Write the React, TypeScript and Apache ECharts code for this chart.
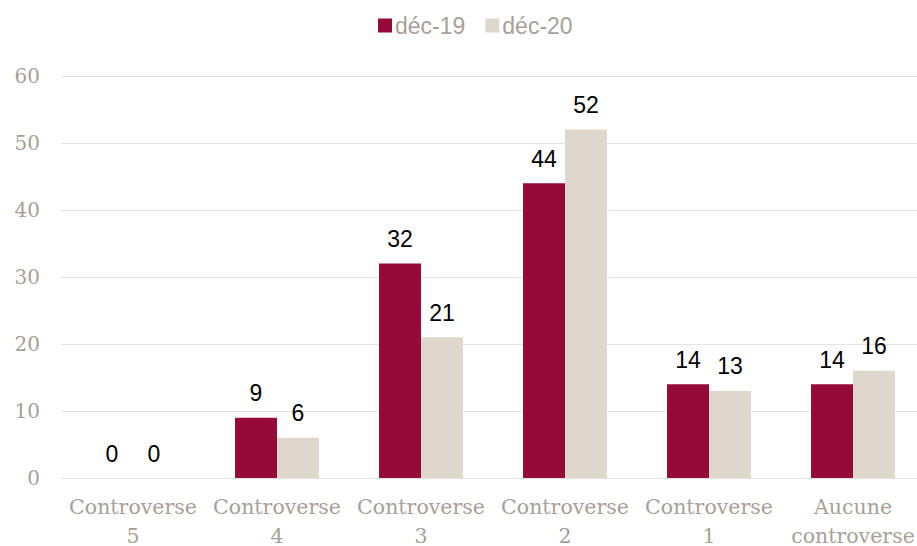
import React, { useEffect, useRef } from "react";
import * as echarts from "echarts";

const categories = ["Controverse\n5", "Controverse\n4", "Controverse\n3", "Controverse\n2", "Controverse\n1", "Aucune\ncontroverse"];
const dec19 = [0, 9, 32, 44, 14, 14];
const dec20 = [0, 6, 21, 52, 13, 16];
const seriesNames = ["déc-19", "déc-20"];

export default function App() {
  const ref = useRef<HTMLDivElement>(null);
  useEffect(() => {
    if (!ref.current) return;
    const chart = echarts.init(ref.current, null, { renderer: "svg" });
    const gray = "#A79F98";
    const labelStyle = {
      show: true,
      position: "top" as const,
      distance: 13,
      color: "#000",
      fontFamily: "Liberation Sans, Arial, sans-serif",
      fontSize: 23,
    };
    chart.setOption({
      animation: false,
      backgroundColor: "#fff",
      legend: {
        top: 9,
        left: 373,
        itemWidth: 14,
        itemHeight: 14,
        itemGap: 20,
        icon: "rect",
        textStyle: { color: gray, fontSize: 23, fontFamily: "Liberation Sans, Arial, sans-serif", padding: [0, 0, 0, -2] },
        data: seriesNames,
      },
      grid: { left: 61, top: 76, width: 864, height: 402, containLabel: false, outerBoundsMode: "none" },
      xAxis: {
        type: "category",
        data: categories,
        axisLine: { show: true, lineStyle: { color: "#E3E3E3", width: 1 } },
        axisTick: { show: false },
        axisLabel: {
          color: gray,
          fontSize: 20.5,
          fontFamily: "DejaVu Serif, Georgia, serif",
          lineHeight: 29,
          margin: 14,
          interval: 0,
        },
      },
      yAxis: {
        type: "value",
        min: 0,
        max: 60,
        interval: 10,
        axisLine: { show: false },
        axisTick: { show: false },
        splitLine: { lineStyle: { color: "#E3E3E3", width: 1 } },
        axisLabel: {
          color: gray,
          fontSize: 20,
          fontFamily: "DejaVu Serif, Georgia, serif",
          margin: 21,
        },
      },
      series: [
        {
          name: seriesNames[0],
          type: "bar",
          data: dec19,
          barWidth: 42,
          barGap: "0%",
          itemStyle: { color: "#960A3A" },
          label: labelStyle,
        },
        {
          name: seriesNames[1],
          type: "bar",
          data: dec20,
          barWidth: 42,
          barGap: "0%",
          itemStyle: { color: "#DDD7CC" },
          label: labelStyle,
        },
      ],
    });
    return () => chart.dispose();
  }, []);
  return (
    <div
      ref={ref}
      style={{ position: "absolute", left: 0, top: 0, width: 917, height: 546 }}
    />
  );
}
